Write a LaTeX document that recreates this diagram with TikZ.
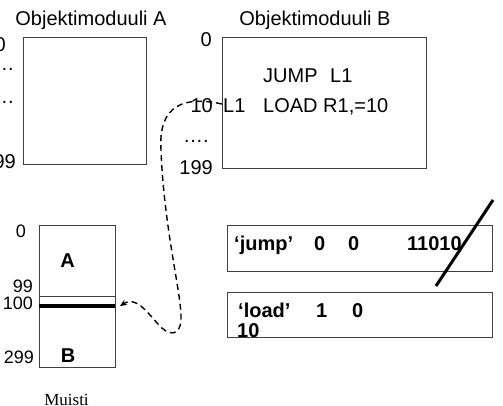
\documentclass[tikz,border=0pt]{standalone}
\usepackage{fontspec}
\setmainfont{Liberation Sans}
\newfontfamily\captionserif{Liberation Serif}
\usetikzlibrary{arrows.meta}
\begin{document}
\begin{tikzpicture}[x=1pt,y=-1pt,
  frame/.style={draw=black!75, line width=0.9pt, inner sep=0pt, anchor=north west},
  txt/.style={inner sep=0pt, font=\fontsize{20}{24}\selectfont},
  bigtxt/.style={inner sep=0pt, font=\fontsize{20}{24}\selectfont\bfseries},
  memtxt/.style={inner sep=0pt, font=\fontsize{18}{22}\selectfont},
  link/.style={line width=1.4pt, dash pattern=on 6pt off 4pt,
    -{Stealth[length=7pt,width=6pt]}}
]
\useasboundingbox (0,0) rectangle (503,406);

% --- object module A ---
\node[txt, anchor=base] (titleA) at (91,26) {Objektimoduuli A};
\node[frame, minimum width=123pt, minimum height=127pt] (modA) at (23,37) {};
\node[txt, anchor=base east] (a0) at (6,52) {0};
\node[txt, anchor=base east] (adots1) at (14,71) {….};
\node[txt, anchor=base east] (adots2) at (14,104) {….};
\node[txt, anchor=base east] (a199) at (16,169) {199};

% --- object module B ---
\node[txt, anchor=base] (titleB) at (315,26) {Objektimoduuli B};
\node[frame, minimum width=204pt, minimum height=131pt] (modB) at (222,37) {};
\node[txt, anchor=base east] (b0) at (212,47) {0};
\node[txt, anchor=base east] (b10) at (213,113) {10};
\node[txt, anchor=base east] (bdots) at (209,143) {….};
\node[txt, anchor=base east] (b199) at (213,175) {199};
\node[txt, anchor=base west] (jump) at (263,83) {JUMP};
\node[txt, anchor=base west] (jumpl) at (330,83) {L1};
\node[txt, anchor=base west] (lbl) at (223,113) {L1};
\node[txt, anchor=base west] (load) at (263,113) {LOAD R1,=10};

% --- memory ---
\node[frame, minimum width=76pt, minimum height=142pt] (mem) at (39,225) {};
\draw[black!75, line width=0.9pt] (39,296) -- (115,296);
\draw[black, line width=4pt] (39,306) -- (115,306);
\node[bigtxt, anchor=center] (memA) at (67.5,260.5) {A};
\node[bigtxt, anchor=center] (memB) at (68,356) {B};
\node[memtxt, anchor=base east] (m0) at (26,237) {0};
\node[memtxt, anchor=base east] (m99) at (33,292) {99};
\node[memtxt, anchor=base east] (m100) at (33,309) {100};
\node[memtxt, anchor=base east] (m299) at (34,363) {299};
\node[inner sep=0pt, font=\captionserif\fontsize{17}{20}\selectfont, anchor=base]
  (muisti) at (66.5,405) {Muisti};

% --- instruction records ---
\node[frame, minimum width=265pt, minimum height=46pt] (rec1) at (227,225) {};
\node[frame, minimum width=265pt, minimum height=45pt] (rec2) at (227,292) {};
\node[bigtxt, anchor=base west] (r1a) at (234,250) {‘jump’};
\node[bigtxt, anchor=base west] (r1b) at (314,250) {0};
\node[bigtxt, anchor=base west] (r1c) at (348,250) {0};
\node[bigtxt, anchor=base west] (r1d) at (407,250) {11010};
\node[bigtxt, anchor=base west] (r2a) at (238,317) {‘load’};
\node[bigtxt, anchor=base west] (r2b) at (316,317) {1};
\node[bigtxt, anchor=base west] (r2c) at (352,317) {0};
\node[bigtxt, anchor=base west] (r2d) at (237,337) {10};
\draw[line width=3pt] (493,200) -- (436,286);

% --- relocation link from L1 to the memory image ---
\coordinate (src) at (222,104);
\coordinate (dst) at (120,306);
\draw[link] (src) .. controls (185,96) and (158,104) .. (161,150)
  .. controls (164,230) and (182,295) .. (181,320)
  .. controls (180,337) and (168,336) .. (158,324)
  .. controls (146,311) and (136,296) .. (dst);
\end{tikzpicture}
\end{document}
